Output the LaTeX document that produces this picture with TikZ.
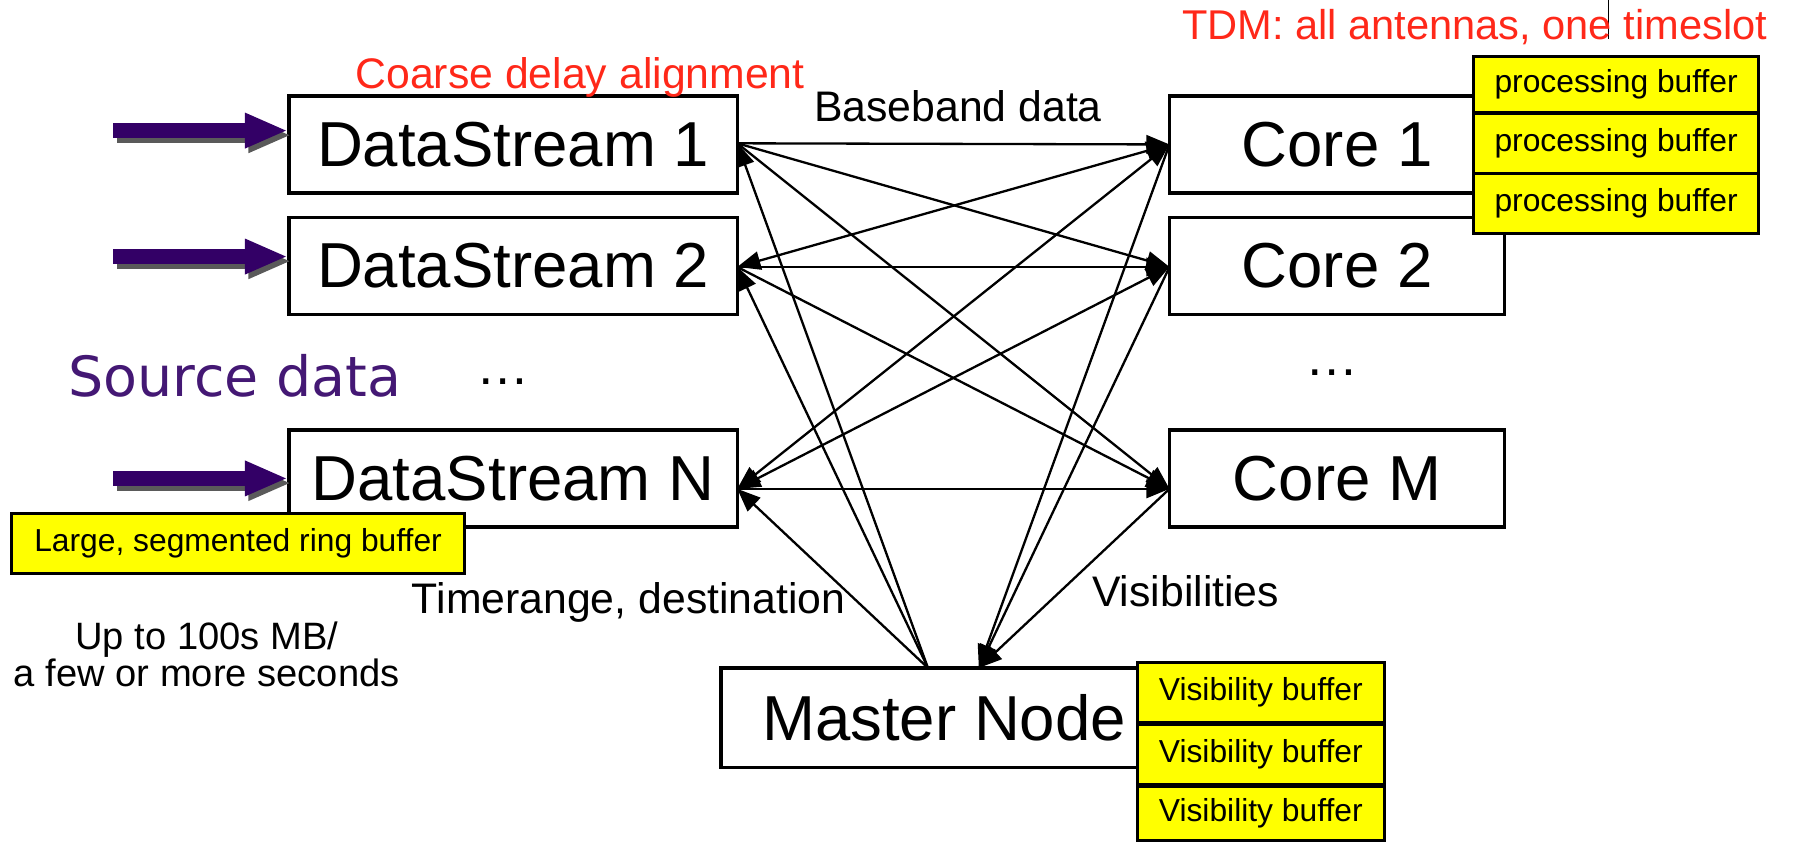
\documentclass[tikz,border=0pt]{standalone}
\usepackage{fontspec}
\setmainfont{Liberation Sans}
\newfontfamily\srcfont{DejaVu Sans}
\usetikzlibrary{arrows.meta,calc}
\definecolor{redtxt}{RGB}{255,40,25}
\definecolor{purparrow}{RGB}{51,0,102}
\definecolor{purptxt}{RGB}{68,24,116}
\definecolor{ybuf}{RGB}{255,255,0}
\definecolor{shadowgray}{RGB}{90,90,90}
\begin{document}
\begin{tikzpicture}[x=1pt,y=-1pt,
  bigbox/.style={draw, line width=3pt, fill=white, inner sep=0pt, font=\fontsize{55}{60}\selectfont},
  dsbox/.style={bigbox, minimum width=388pt, minimum height=84pt},
  corebox/.style={bigbox, minimum width=290pt, minimum height=84pt},
  ybox/.style={draw, line width=2.5pt, fill=ybuf, inner sep=0pt, minimum height=52pt, font=\fontsize{27.5}{30}\selectfont},
  lbl/.style={inner sep=0pt, anchor=base, font=\fontsize{37}{40}\selectfont},
  redlbl/.style={lbl, text=redtxt},
  conn/.style={line width=2pt, -{Triangle[length=20pt,width=16pt]}},
  dconn/.style={line width=2pt, {Triangle[length=20pt,width=16pt]}-{Triangle[length=20pt,width=16pt]}},
  feed/.style={line width=13pt, -{Triangle[length=37pt,width=28pt]}},
]
\useasboundingbox (0,0) rectangle (1568,729);

% connection points
\coordinate (p1) at (638,124);
\coordinate (p2) at (638,231);
\coordinate (pn) at (638,423);
\coordinate (q1) at (1012,125);
\coordinate (q2) at (1012,231);
\coordinate (qm) at (1012,423);
\coordinate (ma) at (803,578);
\coordinate (mb) at (847,578);

% connectors
\draw[conn] (p1) -- (q1);
\draw[conn] (p1) -- (q2);
\draw[conn] (p1) -- (qm);
\draw[dconn] (p2) -- (q1);
\draw[conn] (p2) -- (q2);
\draw[conn] (p2) -- (qm);
\draw[dconn] (pn) -- (q1);
\draw[dconn] (pn) -- (q2);
\draw[conn] (pn) -- (qm);
\draw[conn] (ma) -- (p1);
\draw[conn] (ma) -- (p2);
\draw[conn] (ma) -- (pn);
\draw[conn] (q1) -- (mb);
\draw[conn] (q2) -- (mb);
\draw[conn] (qm) -- (mb);

% boxes
\node[dsbox] (ds1) at (444,125) {DataStream 1};
\node[dsbox] (ds2) at (444,230) {DataStream 2};
\node[dsbox] (dsn) at (444,414) {DataStream N};
\node[corebox] (c1) at (1157,125) {Core 1};
\node[corebox] (c2) at (1157,230) {Core 2};
\node[corebox] (cm) at (1157,414) {Core M};
\node[bigbox, minimum width=386pt, minimum height=86pt] (master) at (817,621) {Master Node};

% yellow buffers
\node[ybox, minimum width=247pt, minimum height=48pt] (pb1) at (1398.5,73) {processing buffer};
\node[ybox, minimum width=247pt] (pb2) at (1398.5,124) {processing buffer};
\node[ybox, minimum width=247pt] (pb3) at (1398.5,176) {processing buffer};
\node[ybox, minimum width=214pt] (vb1) at (1091,599) {Visibility buffer};
\node[ybox, minimum width=214pt] (vb2) at (1091,653) {Visibility buffer};
\node[ybox, minimum width=214pt, minimum height=46pt] (vb3) at (1091,704) {Visibility buffer};
\node[ybox, minimum width=392pt] (ring) at (206,470) {Large, segmented ring buffer};

% purple feed arrows with shadows
\coordinate (f1) at (98,113);  \coordinate (t1) at (249,113);
\coordinate (f2) at (98,222);  \coordinate (t2) at (249,222);
\coordinate (fn) at (98,414);  \coordinate (tn) at (249,414);
\draw[feed, shadowgray] ([shift={(3,4)}]f1) -- ([shift={(3,4)}]t1);
\draw[feed, shadowgray] ([shift={(3,4)}]f2) -- ([shift={(3,4)}]t2);
\draw[feed, shadowgray] ([shift={(3,4)}]fn) -- ([shift={(3,4)}]tn);
\draw[feed, purparrow] (f1) -- (t1);
\draw[feed, purparrow] (f2) -- (t2);
\draw[feed, purparrow] (fn) -- (tn);

% thin line at top
\coordinate (vtop) at (1392,0);
\coordinate (vbot) at (1392,34);
\draw[line width=1.2pt] (vtop) -- (vbot);

% labels
\node[redlbl, font=\fontsize{36}{40}\selectfont] (tdm) at (1276,34) {TDM: all antennas, one timeslot};
\node[redlbl] (coarse) at (502,77) {Coarse delay alignment};
\node[lbl] (bb) at (829,105) {Baseband data};
\node[lbl] (tr) at (544,531) {Timerange, destination};
\node[lbl] (vis) at (1026,525) {Visibilities};
\node[lbl, font=\fontsize{46}{46}\selectfont] (dots1) at (435,333) {\dots};
\node[lbl, font=\fontsize{46}{46}\selectfont] (dots2) at (1153,325) {\dots};
\node[inner sep=0pt, anchor=base, text=purptxt, font=\srcfont\fontsize{48}{50}\selectfont] (src) at (203,343) {Source data};
\node[inner sep=0pt, anchor=base, font=\fontsize{33}{33}\selectfont] (upto) at (179,562) {Up to 100s MB/};
\node[inner sep=0pt, anchor=base, font=\fontsize{33}{33}\selectfont] (few) at (179,594) {a few or more seconds};
\end{tikzpicture}
\end{document}
